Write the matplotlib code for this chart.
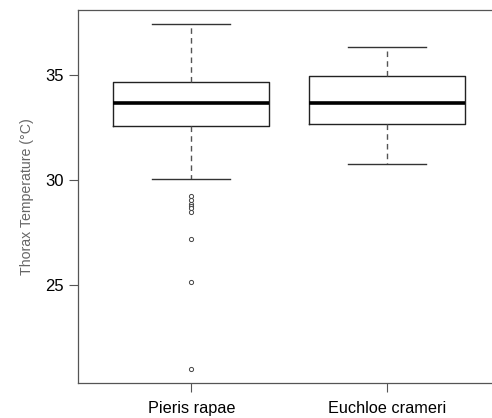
import matplotlib
matplotlib.use("Agg")
import matplotlib.pyplot as plt

plt.rcParams["font.family"] = ["Liberation Sans", "DejaVu Sans"]

species = ["Pieris rapae", "Euchloe crameri"]
whisker_low = [30.06, 30.78]
q1 = [32.57, 32.66]
median = [33.70, 33.70]
q3 = [34.68, 34.97]
whisker_high = [37.45, 36.37]
pieris_outliers = [29.25, 29.05, 28.85, 28.75, 28.68, 28.45, 27.2, 25.15, 20.95]
euchloe_outliers = []
outliers = [pieris_outliers, euchloe_outliers]

stats = []
for i, name in enumerate(species):
    stats.append({
        "label": name,
        "whislo": whisker_low[i],
        "q1": q1[i],
        "med": median[i],
        "q3": q3[i],
        "whishi": whisker_high[i],
        "fliers": outliers[i],
    })

fig = plt.figure(figsize=(4.92, 4.18), dpi=100)
ax = fig.add_axes([78 / 492, 1 - 383.3 / 418, (500 - 78) / 492, 373.3 / 418])

ax.bxp(
    stats,
    positions=[1, 2],
    widths=0.8,
    showfliers=True,
    boxprops=dict(color="#222222", linewidth=1.0),
    medianprops=dict(color="black", linewidth=2.6),
    whiskerprops=dict(color="#555555", linewidth=1.0, linestyle=(0, (4, 3))),
    capprops=dict(color="#333333", linewidth=1.0),
    capwidths=0.4,
    flierprops=dict(marker="o", markersize=3.0, markerfacecolor="white",
                    markeredgecolor="#444444", markeredgewidth=0.7),
)

ax.set_xlim(0.42, 2.58)
ax.set_ylim(20.29, 38.12)
ax.set_yticks([25, 30, 35])
ax.set_yticklabels(["25", "30", "35"], fontsize=12)
ax.set_xticks([1, 2])
ax.set_xticklabels(species, fontsize=11.7)
ax.tick_params(axis="both", length=6.5, width=0.8, color="#555555")
ax.tick_params(axis="y", pad=4)
ax.tick_params(axis="x", pad=6)
ax.set_ylabel("Thorax Temperature (\u00b0C)", fontsize=10.2, color="#666666", labelpad=8)
for s in ax.spines.values():
    s.set_color("#555555")
    s.set_linewidth(0.9)

fig.savefig("out.png", dpi=100)
